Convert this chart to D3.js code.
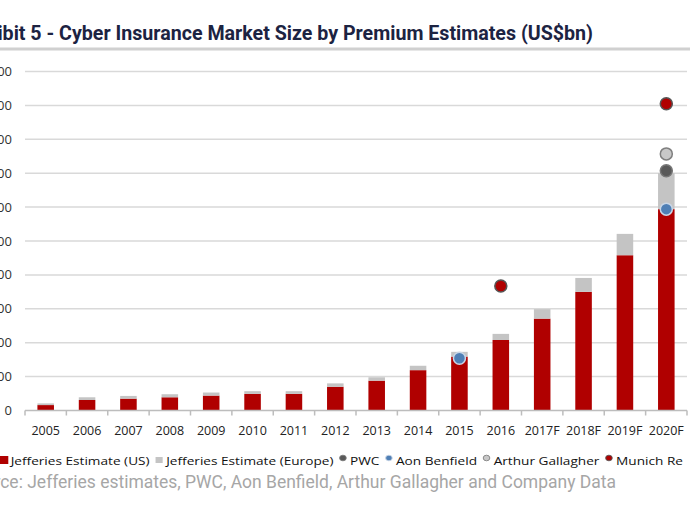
<!DOCTYPE html>
<html><head><meta charset="utf-8">
<script src="https://cdn.jsdelivr.net/npm/d3@7"></script>
<style>body{margin:0;background:#fff;overflow:hidden}svg{display:block}</style>
</head><body><svg id="c" width="700" height="525"></svg>
<script>
const categories = ["2005","2006","2007","2008","2009","2010","2011","2012","2013","2014","2015","2016","2017F","2018F","2019F","2020F"];
const usValues = [160,310,350,390,440,490,490,700,880,1190,1590,2080,2710,3500,4580,5940];
const europeValues = [50,80,80,90,90,80,80,100,100,130,140,180,280,410,630,1060];
const pwcPoints = [{cat:"2020F", value:7070}];
const aonPoints = [{cat:"2015", value:1540},{cat:"2020F", value:5940}];
const gallagherPoints = [{cat:"2020F", value:7570}];
const munichPoints = [{cat:"2016", value:3670},{cat:"2020F", value:9050}];
const yTicks = [0,1000,2000,3000,4000,5000,6000,7000,8000,9000,10000];
const titleText = "Exhibit 5 - Cyber Insurance Market Size by Premium Estimates (US$bn)";
const sourceText = "Source: Jefferies estimates, PWC, Aon Benfield, Arthur Gallagher and Company Data";
const legendItems = [
  {label:"Jefferies Estimate (US)", type:"square", fill:"#b00000", stroke:"none"},
  {label:"Jefferies Estimate (Europe)", type:"square", fill:"#c4c4c4", stroke:"none"},
  {label:"PWC", type:"dot", fill:"#595959", stroke:"#777"},
  {label:"Aon Benfield", type:"dot", fill:"#4f7fb5", stroke:"#c9d6e6"},
  {label:"Arthur Gallagher", type:"dot", fill:"#c8c8c8", stroke:"#7f7f7f"},
  {label:"Munich Re", type:"dot", fill:"#b00000", stroke:"#555"}
];

const svg = d3.select("#c");
const x = d3.scaleBand().domain(categories).range([25, 687]).padding(0);
const y = d3.scaleLinear().domain([0, 10000]).range([410.5, 71.5]);
const barW = x.bandwidth() * 0.4;

// helper: size a text so that the part after a hidden prefix spans [x0, x1]
function fitText(sel, full, hiddenPrefix, x0, x1, baseSize){
  sel.attr("font-size", baseSize).text(hiddenPrefix);
  const pw = sel.node().getComputedTextLength();
  sel.text(full);
  const fw = sel.node().getComputedTextLength();
  const k = (x1 - x0) / (fw - pw);
  sel.attr("font-size", baseSize * k).attr("text-anchor","end").attr("x", x1);
}

// title
const title = svg.append("text").attr("y", 40)
  .attr("font-family","Roboto").attr("font-weight","bold").attr("fill","#1c2342");
fitText(title, titleText, "Exhi", 2, 593, 18);
svg.append("rect").attr("x",0).attr("y",47.5).attr("width",690).attr("height",3).attr("fill","#d0d0d0");

// gridlines
svg.append("g").selectAll("line").data(yTicks.slice(1)).join("line")
  .attr("x1", 25).attr("x2", 687).attr("y1", d=>y(d)).attr("y2", d=>y(d))
  .attr("stroke","#d9d9d9").attr("stroke-width",1.5);

// y labels
svg.append("g").selectAll("text").data(yTicks).join("text")
  .attr("x", 12).attr("y", d=>y(d)+4.5).attr("text-anchor","end")
  .attr("font-family","Open Sans").attr("font-size",13).attr("fill","#333")
  .text(d=>d3.format(",")(d));

// bars
const bars = svg.append("g");
bars.selectAll("rect.us").data(categories).join("rect").attr("class","us")
  .attr("x", d=>x(d)+x.bandwidth()/2-barW/2).attr("width", barW)
  .attr("y", (d,i)=>y(usValues[i])).attr("height", (d,i)=>y(0)-y(usValues[i]))
  .attr("fill","#b00000");
bars.selectAll("rect.eu").data(categories).join("rect").attr("class","eu")
  .attr("x", d=>x(d)+x.bandwidth()/2-barW/2).attr("width", barW)
  .attr("y", (d,i)=>y(usValues[i]+europeValues[i])).attr("height", (d,i)=>y(usValues[i])-y(usValues[i]+europeValues[i]))
  .attr("fill","#c4c4c4");

// x axis
svg.append("line").attr("x1",25).attr("x2",687).attr("y1",y(0)).attr("y2",y(0)).attr("stroke","#bdbdbd").attr("stroke-width",1.5);
const bounds = categories.map(c=>x(c)).concat([x(categories[categories.length-1])+x.bandwidth()]);
svg.append("g").selectAll("line").data(bounds).join("line")
  .attr("x1",d=>d).attr("x2",d=>d).attr("y1",y(0)).attr("y2",y(0)+5).attr("stroke","#bdbdbd").attr("stroke-width",1.5);
svg.append("g").selectAll("text").data(categories).join("text")
  .attr("x", d=>x(d)+x.bandwidth()/2).attr("y", 435).attr("text-anchor","middle")
  .attr("font-family","Open Sans").attr("font-size",12.5).attr("fill","#222").text(d=>d);

// dots
function dots(data, item){
  svg.append("g").selectAll("circle").data(data).join("circle")
    .attr("cx", d=>x(d.cat)+x.bandwidth()/2).attr("cy", d=>y(d.value)).attr("r",6)
    .attr("fill", item.fill).attr("stroke", item.stroke).attr("stroke-width",1.5);
}
dots(pwcPoints, legendItems[2]);
dots(aonPoints, legendItems[3]);
dots(gallagherPoints, legendItems[4]);
dots(munichPoints, legendItems[5]);

// legend
const lg = svg.append("g");
let lx = 0;
const ly = 461;
legendItems.forEach((it, i)=>{
  if (it.type === "square") {
    const s = i===0 ? 8 : 6;
    lg.append("rect").attr("x", i===0 ? lx-1 : lx).attr("y", ly-s/2-1).attr("width", s).attr("height", s).attr("fill", it.fill);
    lx += 9;
  } else {
    lg.append("circle").attr("cx", lx+3).attr("cy", ly-3).attr("r", 2.8).attr("fill", it.fill).attr("stroke", it.stroke).attr("stroke-width", 0.8);
    lx += 9;
  }
  const t = lg.append("text").attr("x", lx).attr("y", ly+4).attr("font-family","Open Sans")
    .attr("font-size",11.5).attr("fill","#111").text(it.label);
  lx += t.node().getComputedTextLength() + 5;
});
const lw = lx - 5;
lg.attr("transform", `scale(${683/lw},1)`);

// source
const src = svg.append("text").attr("y", 488)
  .attr("font-family","Roboto").attr("fill","#a6a6a6");
fitText(src, sourceText, "Sour", 0, 616, 15.5);
</script></body></html>
